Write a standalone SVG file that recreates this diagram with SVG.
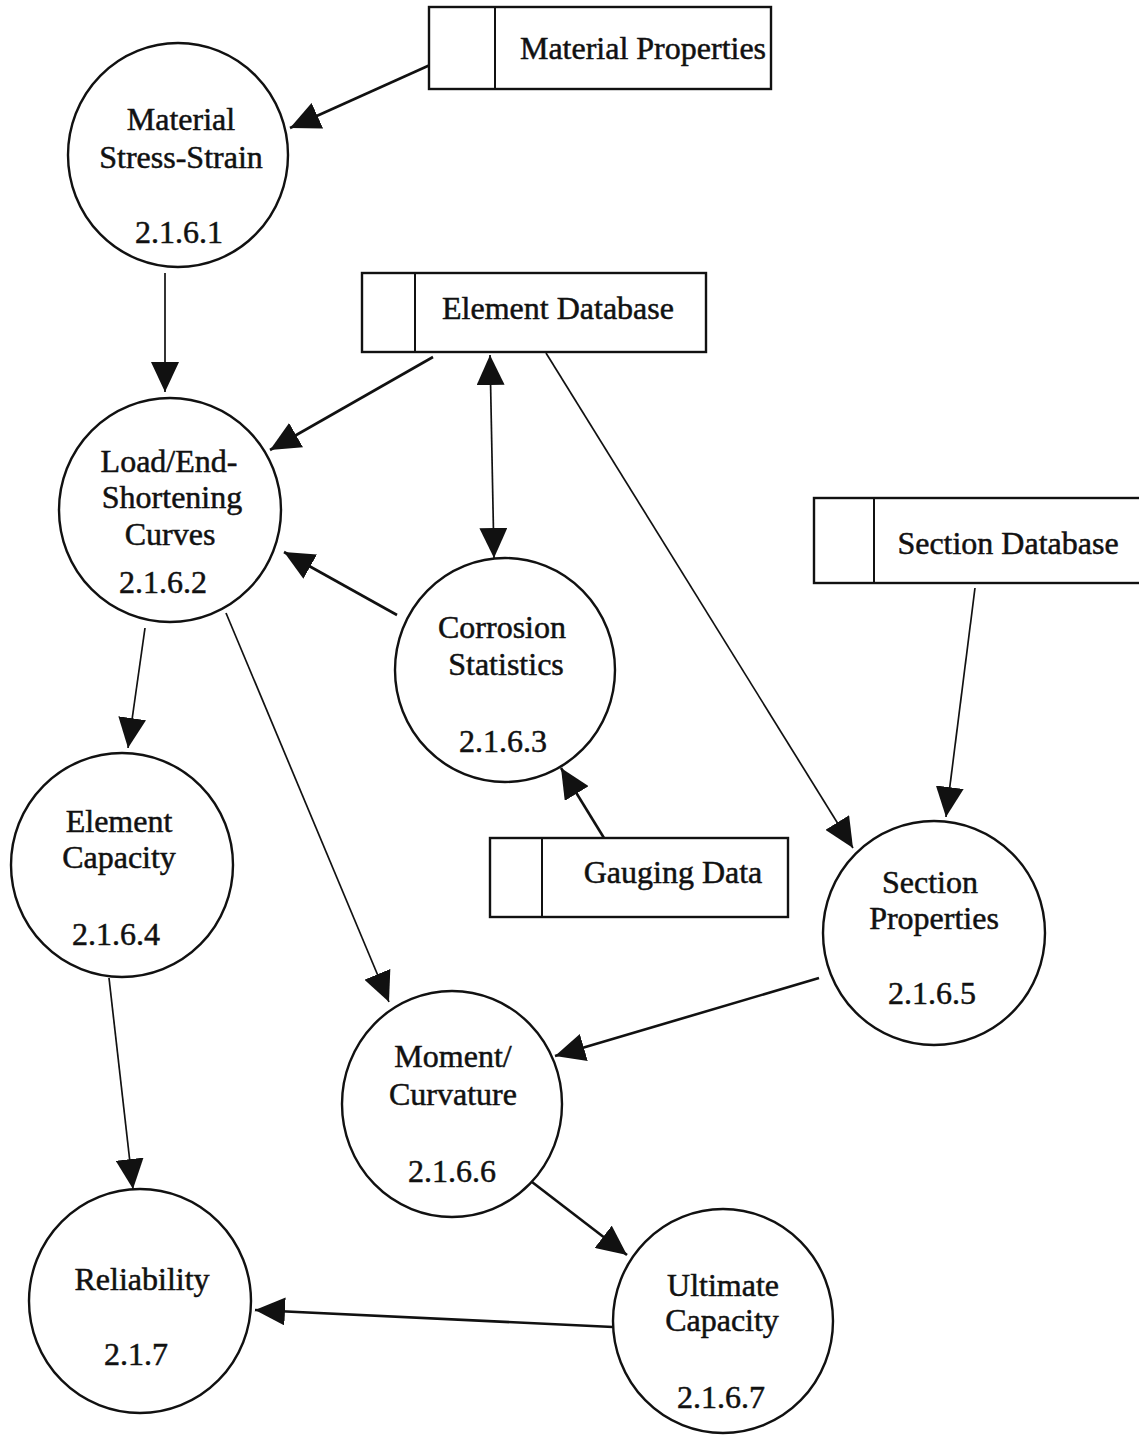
<svg xmlns="http://www.w3.org/2000/svg" width="1139" height="1437" viewBox="0 0 1139 1437">
<style>
.bg{fill:#ffffff}
.proc{fill:#ffffff;stroke:#111;stroke-width:2.4}
.store{fill:#ffffff;stroke:#111;stroke-width:2.4}
.div{stroke:#111;stroke-width:2}
.t{font-family:"Liberation Serif","Times New Roman",serif;font-size:32px;fill:#111;stroke:#111;stroke-width:0.5;text-anchor:middle}
.thick{stroke:#111;stroke-width:2.6;fill:none}
.thin{stroke:#111;stroke-width:1.7;fill:none}
</style>
<defs>
<marker id="ah" markerUnits="userSpaceOnUse" markerWidth="30" markerHeight="28" refX="30" refY="14" orient="auto-start-reverse" viewBox="0 0 30 28">
<path d="M0,0 L30,14 L0,28 z" fill="#111"/>
</marker>
</defs>
<rect class="bg" x="0" y="0" width="1139" height="1437"/>

<g id="connectors">
<line class="thick" x1="430" y1="65" x2="290" y2="128" marker-end="url(#ah)"/>
<line class="thin" x1="165" y1="273" x2="165" y2="392" marker-end="url(#ah)"/>
<line class="thick" x1="433" y1="357" x2="270" y2="450" marker-end="url(#ah)"/>
<line class="thin" x1="490" y1="355" x2="494" y2="558" marker-start="url(#ah)" marker-end="url(#ah)"/>
<line class="thin" x1="546" y1="353" x2="853" y2="848" marker-end="url(#ah)"/>
<line class="thick" x1="397" y1="615" x2="284" y2="552" marker-end="url(#ah)"/>
<line class="thin" x1="975" y1="588" x2="946" y2="817" marker-end="url(#ah)"/>
<line class="thick" x1="604" y1="838" x2="561" y2="768" marker-end="url(#ah)"/>
<line class="thin" x1="145" y1="628" x2="128" y2="748" marker-end="url(#ah)"/>
<line class="thin" x1="226" y1="613" x2="389" y2="1002" marker-end="url(#ah)"/>
<line class="thin" x1="109" y1="978" x2="133" y2="1189" marker-end="url(#ah)"/>
<line class="thick" x1="819" y1="978" x2="555" y2="1056" marker-end="url(#ah)"/>
<line class="thick" x1="532" y1="1182" x2="627" y2="1255" marker-end="url(#ah)"/>
<line class="thick" x1="613" y1="1327" x2="255" y2="1310" marker-end="url(#ah)"/>
</g>

<g id="store-material-properties">
<rect class="store" x="429" y="7" width="342" height="82"/>
<line class="div" x1="495" y1="7" x2="495" y2="89"/>
<text class="t" x="643" y="59">Material Properties</text>
</g>

<g id="store-element-database">
<rect class="store" x="362" y="273" width="344" height="79"/>
<line class="div" x1="415" y1="273" x2="415" y2="352"/>
<text class="t" x="558" y="319">Element Database</text>
</g>

<g id="store-section-database">
<rect class="store" x="814" y="498" width="340" height="85"/>
<line class="div" x1="874" y1="498" x2="874" y2="583"/>
<text class="t" x="1008" y="554">Section Database</text>
</g>

<g id="store-gauging-data">
<rect class="store" x="490" y="838" width="298" height="79"/>
<line class="div" x1="542" y1="838" x2="542" y2="917"/>
<text class="t" x="673" y="883">Gauging Data</text>
</g>

<g id="p-2-1-6-1">
<ellipse class="proc" cx="178" cy="155" rx="110" ry="112"/>
<text class="t" x="181" y="130">Material</text>
<text class="t" x="181" y="168">Stress-Strain</text>
<text class="t" x="179" y="243">2.1.6.1</text>
</g>

<g id="p-2-1-6-2">
<ellipse class="proc" cx="170" cy="510" rx="111" ry="112"/>
<text class="t" x="169" y="472">Load/End-</text>
<text class="t" x="172" y="508">Shortening</text>
<text class="t" x="170" y="545">Curves</text>
<text class="t" x="163" y="593">2.1.6.2</text>
</g>

<g id="p-2-1-6-3">
<ellipse class="proc" cx="505" cy="670" rx="110" ry="112"/>
<text class="t" x="502" y="638">Corrosion</text>
<text class="t" x="506" y="675">Statistics</text>
<text class="t" x="503" y="752">2.1.6.3</text>
</g>

<g id="p-2-1-6-4">
<ellipse class="proc" cx="122" cy="865" rx="111" ry="112"/>
<text class="t" x="119" y="832">Element</text>
<text class="t" x="119" y="868">Capacity</text>
<text class="t" x="116" y="945">2.1.6.4</text>
</g>

<g id="p-2-1-6-5">
<ellipse class="proc" cx="934" cy="933" rx="111" ry="112"/>
<text class="t" x="930" y="893">Section</text>
<text class="t" x="934" y="929">Properties</text>
<text class="t" x="932" y="1004">2.1.6.5</text>
</g>

<g id="p-2-1-6-6">
<ellipse class="proc" cx="452" cy="1104" rx="110" ry="113"/>
<text class="t" x="453" y="1067">Moment/</text>
<text class="t" x="453" y="1105">Curvature</text>
<text class="t" x="452" y="1182">2.1.6.6</text>
</g>

<g id="p-2-1-6-7">
<ellipse class="proc" cx="723" cy="1321" rx="110" ry="112"/>
<text class="t" x="723" y="1296">Ultimate</text>
<text class="t" x="722" y="1331">Capacity</text>
<text class="t" x="721" y="1408">2.1.6.7</text>
</g>

<g id="p-2-1-7">
<ellipse class="proc" cx="140" cy="1301" rx="111" ry="112"/>
<text class="t" x="142" y="1290">Reliability</text>
<text class="t" x="136" y="1365">2.1.7</text>
</g>
</svg>
